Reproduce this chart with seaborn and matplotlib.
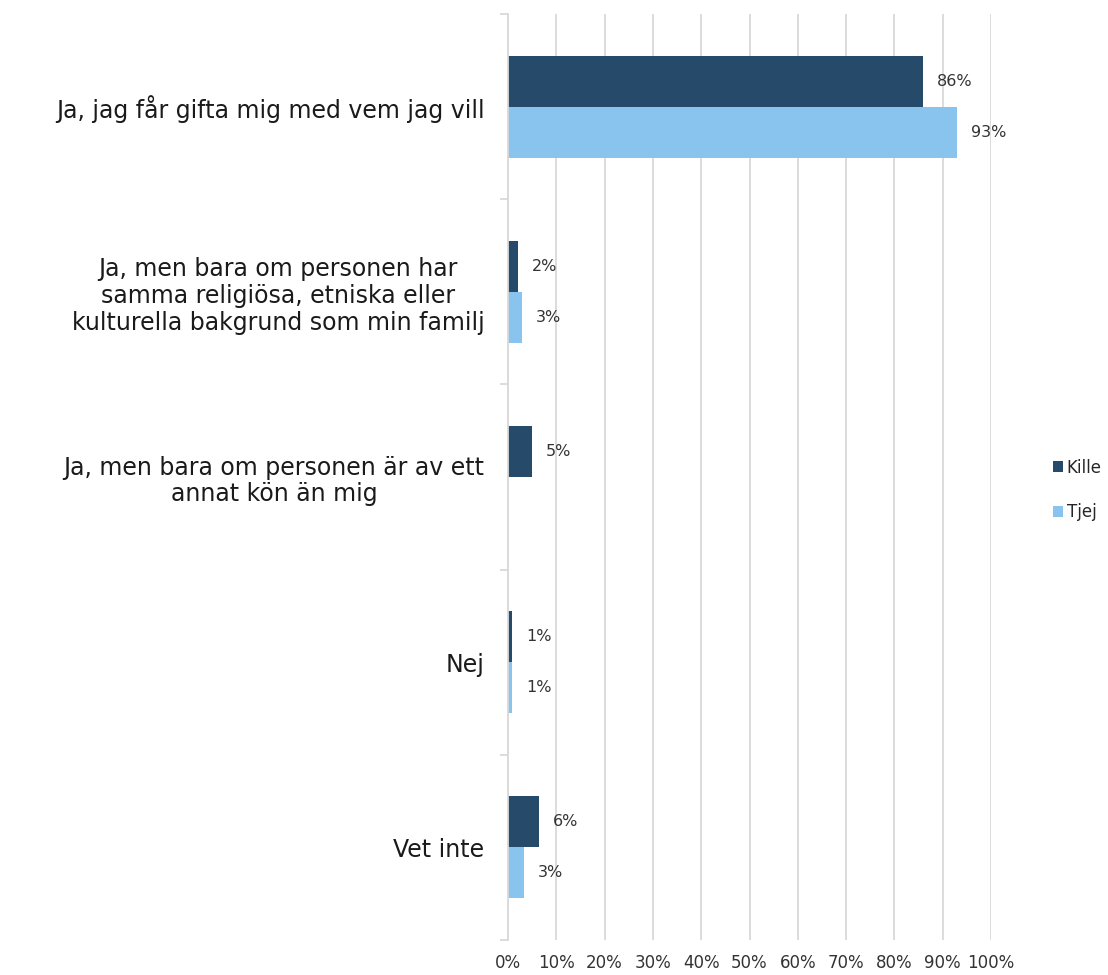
import matplotlib.pyplot as plt
import seaborn as sns
import pandas as pd
from matplotlib.ticker import MultipleLocator, PercentFormatter

categories = [
    "Ja, jag får gifta mig med vem jag vill",
    "Ja, men bara om personen har\nsamma religiösa, etniska eller\nkulturella bakgrund som min familj",
    "Ja, men bara om personen är av ett\nannat kön än mig",
    "Nej",
    "Vet inte",
]
kille = [86, 2, 5, 0.8, 6.4]
tjej = [93, 2.9, 0, 0.9, 3.3]
series = ["Kille", "Tjej"]
colors = {"Kille": "#264a69", "Tjej": "#89c4ef"}

df = pd.DataFrame({
    "fraga": categories * 2,
    "kon": ["Kille"] * len(categories) + ["Tjej"] * len(categories),
    "andel": kille + tjej,
})

sns.set_style("white")
plt.rcParams["font.family"] = ["DejaVu Sans"]

fig = plt.figure(figsize=(11.08, 9.75), dpi=100)
ax = fig.add_axes([508 / 1108, 1 - 940 / 975, 483 / 1108, 926 / 975])

sns.barplot(data=df, y="fraga", x="andel", hue="kon", hue_order=series,
            palette=colors, order=categories, width=0.55, orient="h",
            saturation=1, ax=ax, zorder=3, linewidth=0)

ax.set_xlim(0, 100)
ax.set_ylim(len(categories) - 0.5, -0.5)
ax.xaxis.set_major_locator(MultipleLocator(10))
ax.xaxis.set_major_formatter(PercentFormatter(decimals=0))
ax.grid(axis="x", color="#d9d9d9", linewidth=1.3, zorder=0)
ax.grid(axis="y", visible=False)

for s in ["top", "right", "bottom"]:
    ax.spines[s].set_visible(False)
ax.spines["left"].set_color("#d9d9d9")
ax.spines["left"].set_linewidth(1.3)
ax.spines["left"].set_zorder(4)

ax.set_yticks([i - 0.5 for i in range(len(categories) + 1)], minor=True)
ax.tick_params(axis="y", which="minor", length=6, color="#d9d9d9", width=1.3, left=True)
ax.tick_params(axis="y", which="major", length=0, pad=17, labelsize=17, labelcolor="#1a1a1a")
ax.tick_params(axis="x", length=0, pad=10, labelsize=12, labelcolor="#333333")
for lab in ax.get_yticklabels():
    lab.set_multialignment("center")
    lab.set_linespacing(1.15)

for cont in ax.containers:
    labels = [f"{round(v)}%" if v > 0 else "" for v in cont.datavalues]
    ax.bar_label(cont, labels=labels, padding=10, fontsize=11.5, color="#333333")

ax.set_xlabel("")
ax.set_ylabel("")
ax.legend(loc="center left", bbox_to_anchor=(1.115, 0.486), frameon=False,
          fontsize=12, handlelength=0.6, handleheight=0.6, handletextpad=0.2,
          labelspacing=1.6, borderaxespad=0)

fig.savefig("out.png", dpi=100)
